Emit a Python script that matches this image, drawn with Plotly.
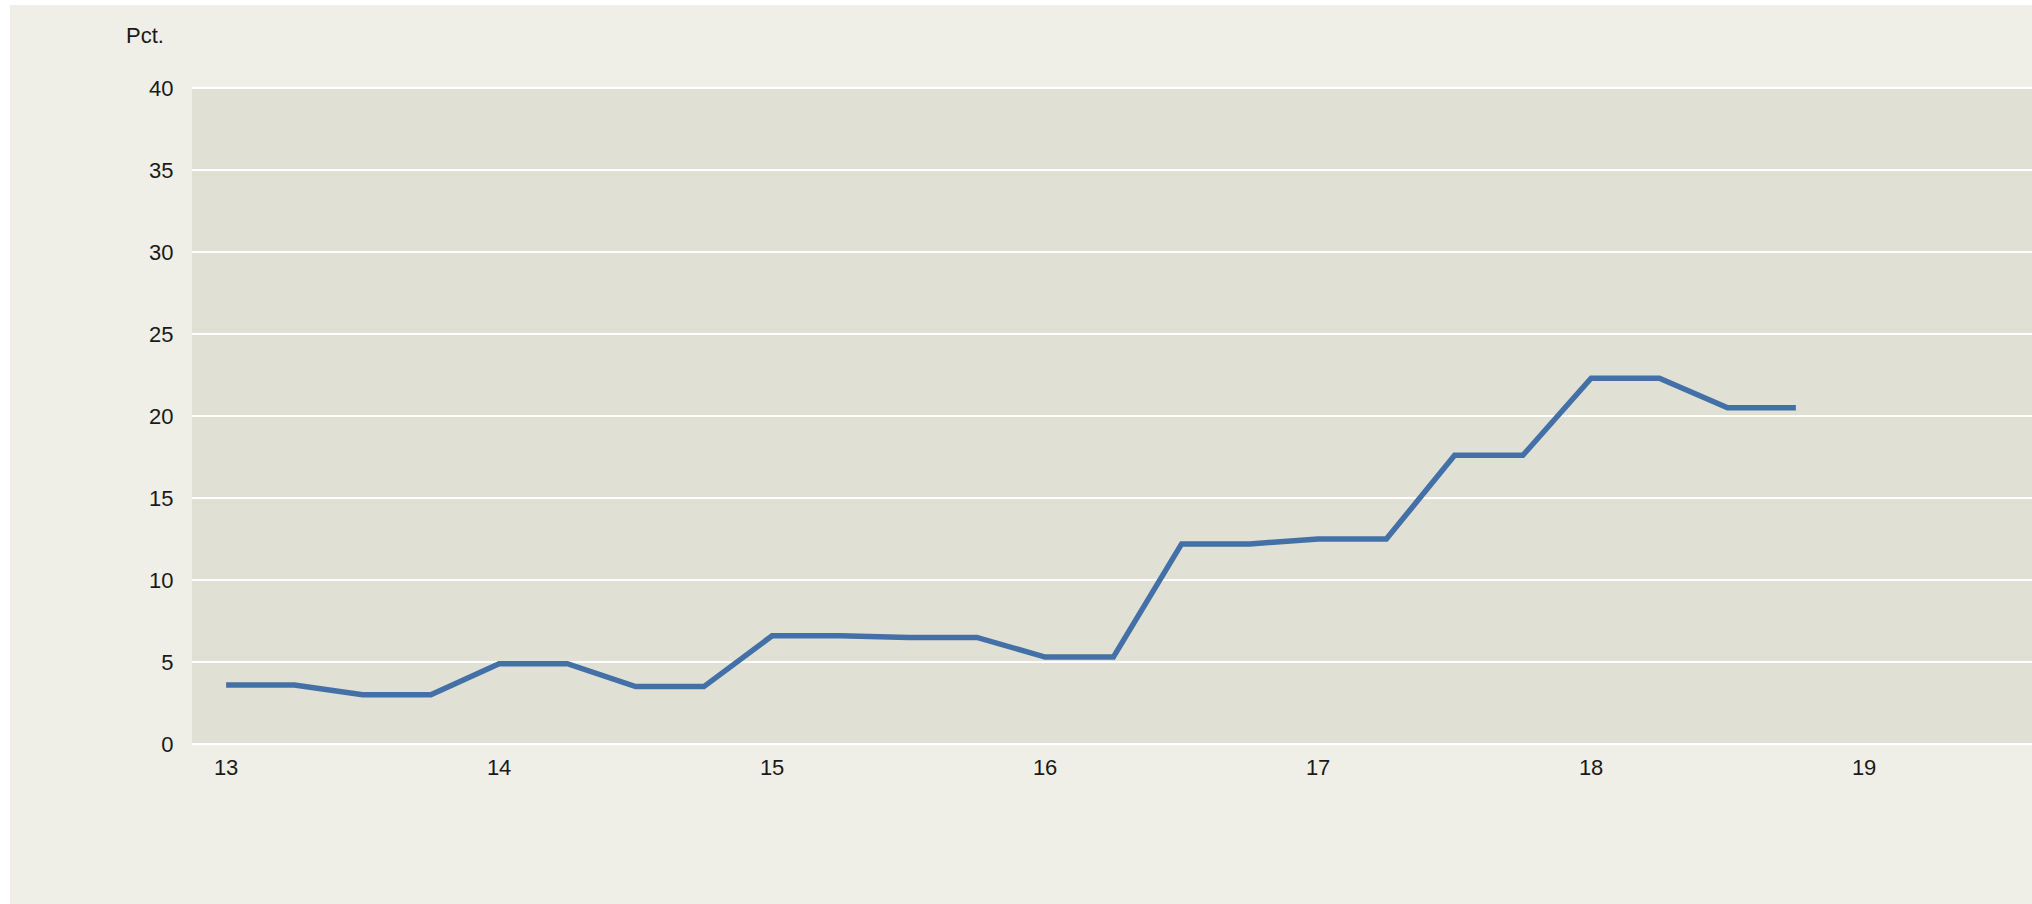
import plotly.graph_objects as go

# Quarterly observations (x in years, e.g. 13 = 2013 Q1)
x_vals = [13.0, 13.25, 13.5, 13.75, 14.0, 14.25, 14.5, 14.75,
          15.0, 15.25, 15.5, 15.75, 16.0, 16.25, 16.5, 16.75,
          17.0, 17.25, 17.5, 17.75, 18.0, 18.25, 18.5, 18.75]
pct_vals = [3.6, 3.6, 3.0, 3.0, 4.9, 4.9, 3.5, 3.5,
            6.6, 6.6, 6.5, 6.5, 5.3, 5.3, 12.2, 12.2,
            12.5, 12.5, 17.6, 17.6, 22.3, 22.3, 20.5, 20.5]
x_ticks = [13, 14, 15, 16, 17, 18, 19]
y_ticks = [0, 5, 10, 15, 20, 25, 30, 35, 40]
y_unit_label = "Pct."

FONT = "Liberation Sans, Arial, sans-serif"
FS = 22

fig = go.Figure()
fig.add_trace(go.Scatter(
    x=x_vals, y=pct_vals, mode="lines",
    line=dict(color="#4470a8", width=5.5),
    hoverinfo="x+y", showlegend=False,
))

fig.update_layout(
    width=2022, height=899,
    margin=dict(l=182, r=0, t=83, b=160, pad=0),
    paper_bgcolor="#efefe8",
    plot_bgcolor="#e0e0d4",
    font=dict(family=FONT, size=FS, color="#1a1a1a"),
    xaxis=dict(
        range=[12.875, 19.615],
        tickvals=x_ticks, ticktext=[str(t) for t in x_ticks],
        showgrid=False, zeroline=False, showline=False,
        ticks="outside", ticklen=4, tickcolor="rgba(0,0,0,0)",
        tickfont=dict(size=FS, family=FONT, color="#1a1a1a"),
    ),
    yaxis=dict(
        range=[0, 40],
        tickvals=y_ticks, ticktext=[str(t) for t in y_ticks],
        showgrid=True, gridcolor="#ffffff", gridwidth=2,
        zeroline=True, zerolinecolor="#ffffff", zerolinewidth=2,
        showline=False,
        ticks="outside", ticklen=13, tickcolor="rgba(0,0,0,0)",
        tickfont=dict(size=FS, family=FONT, color="#1a1a1a"),
    ),
    annotations=[dict(
        text=y_unit_label, xref="paper", yref="paper",
        x=0, y=1, xanchor="left", yanchor="middle",
        xshift=-68, yshift=53, showarrow=False,
        font=dict(size=FS, family=FONT, color="#1a1a1a"),
    )],
)

fig.add_shape(type="line", xref="paper", yref="paper", x0=0, x1=1, y0=1, y1=1,
              line=dict(color="#ffffff", width=2), layer="below")

fig.write_html("out.html",
               post_script="document.body.style.margin='5px 0 0 10px';")
